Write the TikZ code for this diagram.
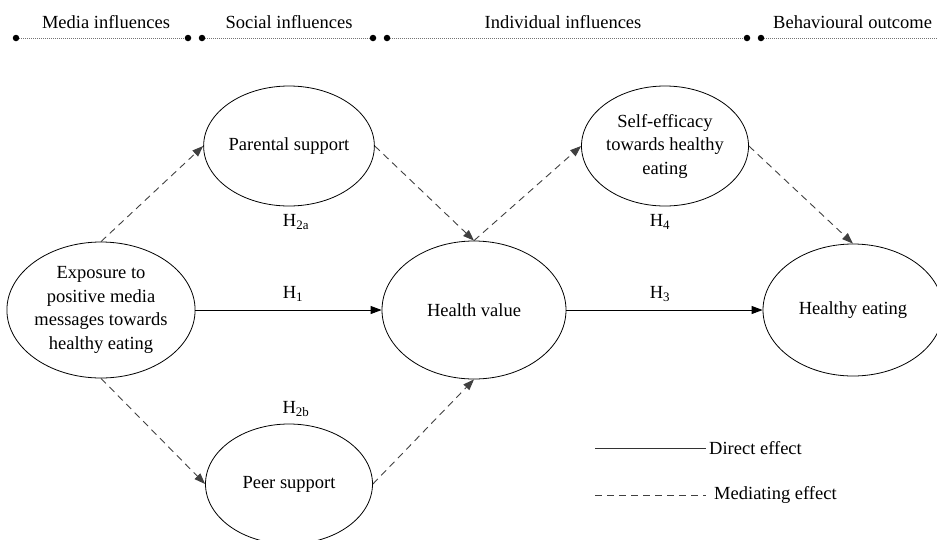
\documentclass[tikz,border=0pt]{standalone}
\usepackage{fontspec}
\setmainfont{Liberation Serif}
\usetikzlibrary{shapes.geometric,arrows.meta}
\begin{document}
\begin{tikzpicture}[x=1pt,y=-1pt,
  construct/.style={ellipse,draw,line width=0.8pt,inner sep=0pt,align=center,
    font=\fontsize{18.5}{23.5}\selectfont},
  direct/.style={line width=0.9pt,-{Triangle[length=11pt,width=8pt]}},
  mediating/.style={line width=0.9pt,draw=black!75,dash pattern=on 7pt off 5pt,
    -{Triangle[length=11pt,width=8pt]}},
  hyp/.style={font=\fontsize{18.5}{20}\selectfont},
  header/.style={font=\fontsize{18.5}{20}\selectfont},
  track/.style={draw=black!55,line width=0.9pt,dash pattern=on 1pt off 1pt},
  endpt/.style={circle,fill=black,inner sep=0pt,minimum size=6.5pt}]
\path[use as bounding box] (0,0) rectangle (937,539);

% stage headers
\node[header] (hMedia) at (106,22) {Media influences};
\node[header] (hSocial) at (289,22) {Social influences};
\node[header] (hIndiv) at (563,22) {Individual influences};
\node[header,anchor=west,inner sep=0pt] (hBehav) at (773,22) {Behavioural outcome};

\node[endpt] (d1) at (16,38) {};
\node[endpt] (d2) at (188,38) {};
\node[endpt] (d3) at (202,38) {};
\node[endpt] (d4) at (373,38) {};
\node[endpt] (d5) at (387,38) {};
\node[endpt] (d6) at (747,38) {};
\node[endpt] (d7) at (761,38) {};
\coordinate (d8) at (937,38);
\draw[track] (d1) -- (d2);
\draw[track] (d3) -- (d4);
\draw[track] (d5) -- (d6);
\draw[track] (d7) -- (d8);

% constructs
\node[construct,minimum width=188pt,minimum height=136pt] (expo) at (101,310)
  {Exposure to\\positive media\\messages towards\\healthy eating};
\node[construct,minimum width=167pt,minimum height=120pt] (parent) at (289,146)
  {Parental support};
\node[construct,minimum width=167pt,minimum height=120pt] (peer) at (289,484)
  {Peer support};
\node[construct,minimum width=184pt,minimum height=138pt] (health) at (474,310)
  {Health value};
\node[construct,minimum width=167pt,minimum height=120pt] (self) at (665,146)
  {Self-efficacy\\towards healthy\\eating};
\node[construct,minimum width=180pt,minimum height=132pt] (eat) at (853,310)
  {Healthy eating};

% paths
\draw[mediating] (expo.north) -- (parent.west);
\draw[mediating] (parent.east) -- (health.north);
\draw[mediating] (expo.south) -- (peer.west);
\draw[mediating] (peer.east) -- (health.south);
\draw[mediating] (health.north) -- (self.west);
\draw[mediating] (self.east) -- (eat.north);
\draw[direct] (expo.east) -- (health.west);
\draw[direct] (health.east) -- (eat.west);

% hypothesis labels
\node[hyp] (h1) at (293,294) {H\textsubscript{1}};
\node[hyp] (h2a) at (296,222) {H\textsubscript{2a}};
\node[hyp] (h2b) at (296,409) {H\textsubscript{2b}};
\node[hyp] (h3) at (660,294) {H\textsubscript{3}};
\node[hyp] (h4) at (660,222) {H\textsubscript{4}};

% legend
\coordinate (ls1) at (595,448);
\coordinate (le1) at (706,448);
\coordinate (ls2) at (595,495);
\coordinate (le2) at (706,495);
\draw[line width=0.9pt,draw=black!80] (ls1) -- (le1);
\draw[line width=0.9pt,draw=black!75,dash pattern=on 7pt off 5pt] (ls2) -- (le2);
\node[header,anchor=west,inner sep=0pt] (lDirect) at (709,448) {Direct effect};
\node[header,anchor=west,inner sep=0pt] (lMed) at (714,495) {Mediating effect};
\end{tikzpicture}
\end{document}
